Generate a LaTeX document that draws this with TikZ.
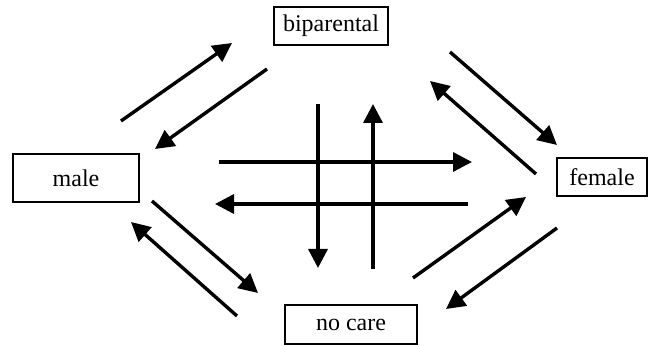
\documentclass[tikz,border=0pt]{standalone}
\usepackage{fontspec}
\setmainfont{Liberation Serif}
\usetikzlibrary{arrows.meta}
\tikzset{
	state/.style={draw, line width=0.8pt, inner sep=0pt, font=\fontsize{12}{14}\selectfont},
	trans/.style={-{Triangle[length=9.5pt,width=9.5pt]}, line width=1.7pt},
}
\begin{document}
\begin{tikzpicture}[x=0.5pt,y=-0.5pt]
	\useasboundingbox (0,0) rectangle (654,346);
	
	% Draw care states
	\node[state, minimum width=57pt, minimum height=19pt] (bi) at (331,26) {biparental};
	\node[state, minimum width=63pt, minimum height=24pt] (male) at (76,178) {male};
	\node[state, minimum width=45pt, minimum height=19pt] (female) at (602,177) {female};
	\node[state, minimum width=66pt, minimum height=19.5pt] (none) at (351,324.5) {no care};
	
	% Ends of the transitions
	\coordinate (mb0) at (121,121); \coordinate (mb1) at (232,43);  % male -> biparental
	\coordinate (bm0) at (267,69);  \coordinate (bm1) at (155,149); % biparental -> male
	\coordinate (bf0) at (450,52);  \coordinate (bf1) at (557,145); % biparental -> female
	\coordinate (fb0) at (536,174); \coordinate (fb1) at (430,81);  % female -> biparental
	\coordinate (mn0) at (152,201); \coordinate (mn1) at (258,293); % male -> no care
	\coordinate (nm0) at (237,316); \coordinate (nm1) at (131,222); % no care -> male
	\coordinate (nf0) at (413,278); \coordinate (nf1) at (526,197); % no care -> female
	\coordinate (fn0) at (557,228); \coordinate (fn1) at (446,309); % female -> no care
	
	% Transitions around the edge
	\draw[trans] (mb0) -- (mb1);
	\draw[trans] (bm0) -- (bm1);
	\draw[trans] (bf0) -- (bf1);
	\draw[trans] (fb0) -- (fb1);
	\draw[trans] (mn0) -- (mn1);
	\draw[trans] (nm0) -- (nm1);
	\draw[trans] (nf0) -- (nf1);
	\draw[trans] (fn0) -- (fn1);
	
	% Diagonal transitions, drawn across the middle
	\coordinate (mf0) at (219,162); \coordinate (mf1) at (472,162); % male -> female
	\coordinate (fm0) at (468,204); \coordinate (fm1) at (215,204); % female -> male
	\coordinate (bn0) at (318,104); \coordinate (bn1) at (318,268); % biparental -> no care
	\coordinate (nb0) at (373,269); \coordinate (nb1) at (373,104); % no care -> biparental
	\draw[trans] (mf0) -- (mf1);
	\draw[trans] (fm0) -- (fm1);
	\draw[trans] (bn0) -- (bn1);
	\draw[trans] (nb0) -- (nb1);
\end{tikzpicture}
\end{document}
